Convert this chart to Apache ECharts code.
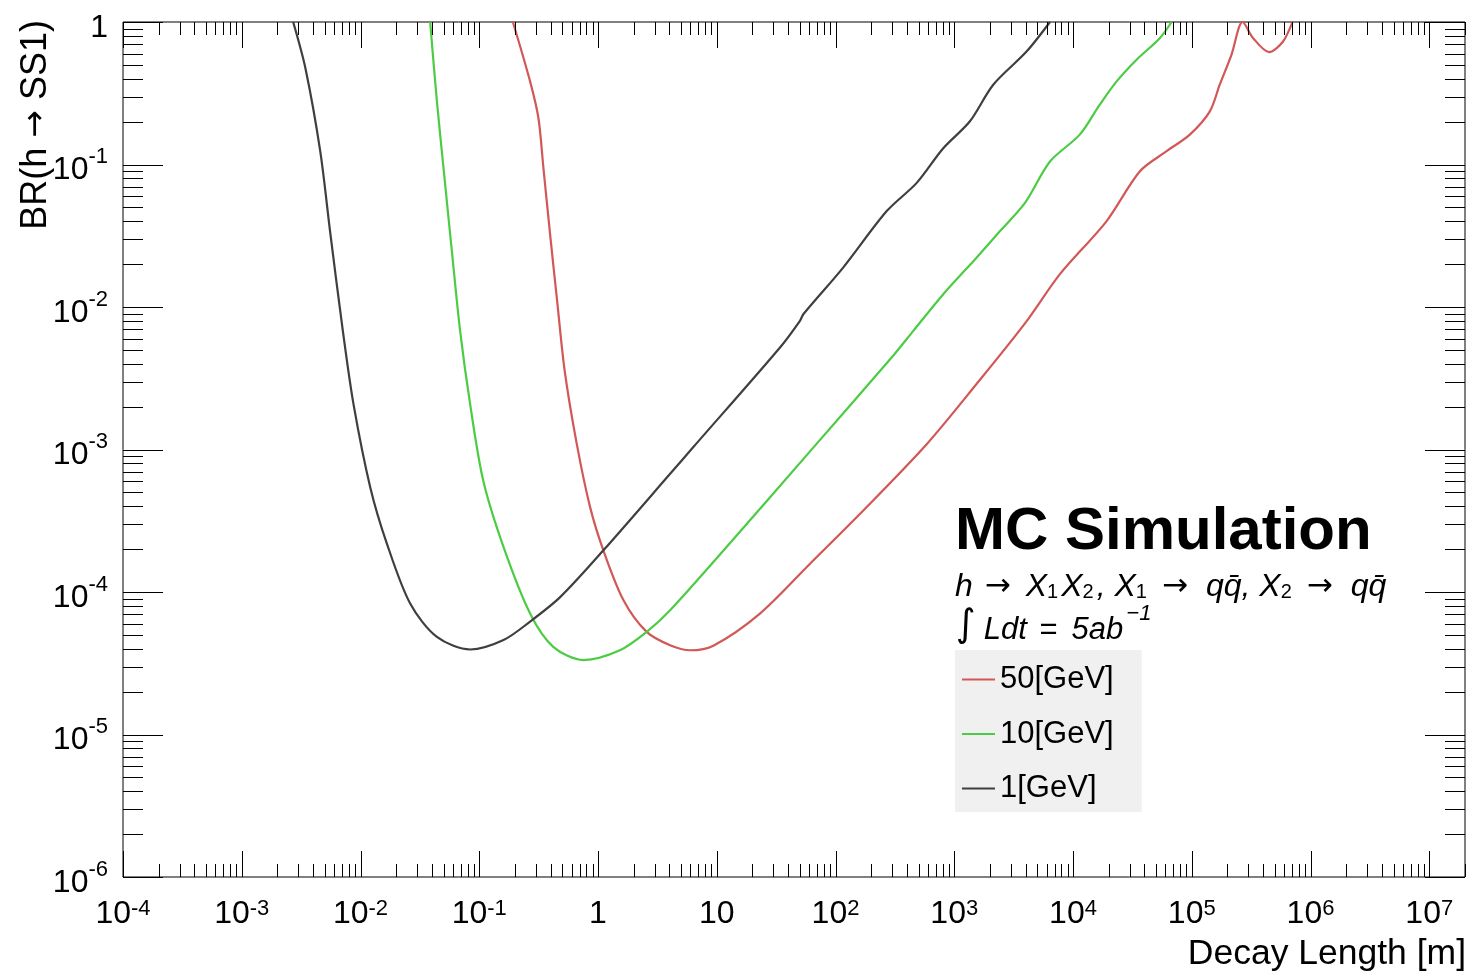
<!DOCTYPE html>
<html>
<head>
<meta charset="utf-8">
<title>BR(h -> SS1) vs decay length</title>
<script src="https://cdn.jsdelivr.net/npm/echarts@6/dist/echarts.min.js"></script>
<style>html,body{margin:0;padding:0;background:#fff;}</style>
</head>
<body>
<div id="main" style="width:1470px;height:976px;"></div>
<script>
var FONT = '"Liberation Sans", Arial, Helvetica, sans-serif';
var ARROW_FONT = '"DejaVu Sans", sans-serif';

// decay length [m] / branching ratio
var len50 = [0.192, 0.268, 0.315, 0.347, 0.395, 0.453, 0.524, 0.663, 0.858, 1.11, 1.64, 2.57, 4.05, 5.96, 9.36, 23.1, 61, 161, 586, 1540, 4000, 7760, 19200, 36600, 61400, 96300, 142000, 172000, 216000, 268000, 329000, 448000, 587000, 705000];
var br50  = [1.0, 0.383, 0.212, 0.0946, 0.0323, 0.011, 3.57e-3, 1.09e-3, 3.94e-4, 1.96e-4, 8.75e-5, 5.25e-5, 4.23e-5, 3.9e-5, 4.2e-5, 7.06e-5, 1.58e-4, 3.54e-4, 1.09e-3, 2.88e-3, 7.8e-3, 0.017, 0.0401, 0.0897, 0.124, 0.162, 0.236, 0.363, 0.589, 1.0, 0.77, 0.615, 0.73, 1.0];

var len10 = [0.0386, 0.044, 0.05, 0.0588, 0.069, 0.0838, 0.108, 0.16, 0.268, 0.42, 0.754, 1.53, 2.57, 4.05, 12.1, 61, 307, 452, 808, 1540, 2430, 3940, 6400, 11400, 16800, 23300, 34300, 53800, 67600];
var br10  = [1.0, 0.277, 0.0946, 0.0247, 6.8e-3, 2.08e-3, 6.05e-4, 2.07e-4, 7.06e-5, 4.12e-5, 3.33e-5, 3.9e-5, 5.25e-5, 7.45e-5, 2.07e-4, 9.7e-4, 4.57e-3, 6.8e-3, 0.0123, 0.0222, 0.0341, 0.0538, 0.105, 0.162, 0.263, 0.383, 0.544, 0.77, 1.0];

var len1 = [2.71e-3, 3.44e-3, 4.58e-3, 5.58e-3, 7.1e-3, 8.73e-3, 0.0121, 0.0167, 0.0262, 0.044, 0.084, 0.16, 0.268, 0.48, 1.11, 4.05, 6.35, 34.1, 50.2, 53.6, 116, 270, 483, 808, 1355, 2130, 4060, 6400];
var br1  = [1.0, 0.472, 0.124, 0.0325, 6.8e-3, 2.08e-3, 5.4e-4, 2.18e-4, 8.3e-5, 4.84e-5, 3.95e-5, 4.6e-5, 6.2e-5, 9.2e-5, 1.96e-4, 6.75e-4, 1.04e-3, 5.2e-3, 8.0e-3, 8.9e-3, 0.0189, 0.0471, 0.0743, 0.13, 0.201, 0.363, 0.62, 1.0];

var seriesNames = ['50[GeV]', '10[GeV]', '1[GeV]'];
var seriesColors = ['#d25757', '#4ccc44', '#3f3f3f'];

// axis ranges and decades that get ticks
var xMin = 1e-4, xMax = 2e7;
var yMin = 1e-6, yMax = 1;
var xDecades = [-4, -3, -2, -1, 0, 1, 2, 3, 4, 5, 6, 7];
var yDecades = [-6, -5, -4, -3, -2, -1];

function zip(a, b) {
    return a.map(function (v, i) { return [v, b[i]]; });
}

// 10^n labels in ROOT style
function powLabel(v) {
    var e = Math.round(Math.log10(v));
    if (Math.abs(Math.log10(v) - e) > 1e-6) return '';
    if (e === 0) return '{b|1}';
    if (e === 1) return '{b|10}';
    return '{b|10}{s|' + e + '}';
}

// tick marks on all four sides (major = decade, minor = 2..9)
var tickData = [];
xDecades.forEach(function (d) {
    for (var m = 1; m <= 9; m++) {
        var v = m * Math.pow(10, d);
        if (v <= xMax * 1.0001) tickData.push([v, 1e-3, 0, m === 1 ? 1 : 0]);
    }
});
yDecades.forEach(function (d) {
    for (var m = 1; m <= 9; m++) {
        tickData.push([1, m * Math.pow(10, d), 1, m === 1 ? 1 : 0]);
    }
});
tickData.push([1, 1, 1, 1]);

function renderTick(params, api) {
    var cs = params.coordSys;
    var isY = api.value(2) === 1;
    var major = api.value(3) === 1;
    var segs, len, p;
    if (!isY) {
        p = Math.round(api.coord([api.value(0), 1e-3])[0]) + 0.5;
        len = major ? 26 : 13;
        segs = [[p, cs.y + cs.height, p, cs.y + cs.height - len], [p, cs.y, p, cs.y + len]];
    } else {
        p = Math.round(api.coord([1, api.value(1)])[1]) + 0.5;
        len = major ? 40 : 20;
        segs = [[cs.x, p, cs.x + len, p], [cs.x + cs.width, p, cs.x + cs.width - len, p]];
    }
    return {
        type: 'group',
        children: segs.map(function (s) {
            return {
                type: 'line',
                shape: { x1: s[0], y1: s[1], x2: s[2], y2: s[3] },
                style: { stroke: '#000', lineWidth: 1 }
            };
        })
    };
}

function curve(i, lens, brs) {
    return {
        name: seriesNames[i], type: 'line', data: zip(lens, brs),
        showSymbol: false, smooth: 0.3, clip: true, z: 3,
        lineStyle: { width: 2.2, color: seriesColors[i] }, itemStyle: { color: seriesColors[i] }
    };
}

var chart = echarts.init(document.getElementById('main'));

var option = {
    animation: false,
    backgroundColor: '#fff',
    grid: {
        left: 123, right: 5, top: 20, bottom: 99,
        show: true, borderColor: '#000', borderWidth: 1, backgroundColor: 'transparent'
    },
    xAxis: {
        type: 'log', logBase: 10, min: xMin, max: xMax, interval: 1,
        axisLine: { show: false }, axisTick: { show: false }, splitLine: { show: false },
        axisLabel: {
            formatter: powLabel, margin: 21, color: '#000',
            showMinLabel: true, showMaxLabel: true,
            rich: {
                b: { fontSize: 32, lineHeight: 32, fontFamily: FONT, color: '#000' },
                s: { fontSize: 22, lineHeight: 13, verticalAlign: 'top', fontFamily: FONT, color: '#000' }
            }
        }
    },
    yAxis: {
        type: 'log', logBase: 10, min: yMin, max: yMax, interval: 1,
        axisLine: { show: false }, axisTick: { show: false }, splitLine: { show: false },
        axisLabel: {
            formatter: powLabel, margin: 15, color: '#000',
            rich: {
                b: { fontSize: 32, lineHeight: 32, padding: [12, 0, 0, 0], fontFamily: FONT, color: '#000' },
                s: { fontSize: 22, lineHeight: 37, verticalAlign: 'top', fontFamily: FONT, color: '#000' }
            }
        }
    },
    legend: {
        data: seriesNames,
        orient: 'vertical',
        left: 955, top: 650,
        padding: [14, 28, 8, 7],
        itemGap: 23.5,
        itemWidth: 33, itemHeight: 2,
        icon: 'rect',
        selectedMode: false,
        backgroundColor: '#f0f0f0',
        textStyle: { fontSize: 31, lineHeight: 31, fontFamily: FONT, color: '#000' }
    },
    graphic: [
        {
            type: 'text', x: 36, y: 20, rotation: Math.PI / 2,
            style: {
                text: '{t|BR(h }{a|\u2192}{t| SS1)}',
                align: 'right', verticalAlign: 'middle',
                rich: {
                    t: { fontSize: 36, fontFamily: FONT, fill: '#000' },
                    a: { fontSize: 33, fontFamily: ARROW_FONT, fill: '#000' }
                }
            }
        },
        {
            type: 'text', x: 1466, y: 954,
            style: { text: 'Decay Length [m]', fontSize: 35.5, fontFamily: FONT, fill: '#000', align: 'right', verticalAlign: 'middle' }
        },
        {
            type: 'text', x: 955, y: 532,
            style: { text: 'MC Simulation', fontSize: 60, fontWeight: 'bold', fontFamily: FONT, fill: '#000', align: 'left', verticalAlign: 'middle' }
        },
        {
            type: 'text', x: 955, y: 587,
            style: {
                text: '{i|h}{a|\u2192}{i|X}{d|1}{i|X}{d|2}{i|, X}{d|1}{b|\u2192}{i|qq\u0304, X}{d|2}{b|\u2192}{i|qq\u0304}',
                align: 'left', verticalAlign: 'middle',
                rich: {
                    i: { fontSize: 32, lineHeight: 30, fontStyle: 'italic', fontFamily: FONT, color: '#000' },
                    a: { fontSize: 31, lineHeight: 30, padding: [0, 15, 0, 12], fontFamily: ARROW_FONT, color: '#000' },
                    b: { fontSize: 31, lineHeight: 30, padding: [0, 18, 0, 12], fontFamily: ARROW_FONT, color: '#000' },
                    d: { fontSize: 20, lineHeight: 12, padding: [0, 3, 0, 0], verticalAlign: 'bottom', fontFamily: FONT, color: '#000' }
                }
            }
        },
        {
            type: 'text', x: 956, y: 624,
            style: {
                text: '{g|\u222B}{i|Ldt}{h| }{e|=}{i|5ab}{u|\u22121}',
                align: 'left', verticalAlign: 'middle',
                rich: {
                    g: { fontSize: 38, lineHeight: 30, padding: [0, 8, 0, 0], verticalAlign: 'bottom', fontStyle: 'italic', fontFamily: ARROW_FONT, color: '#000' },
                    i: { fontSize: 31, lineHeight: 30, verticalAlign: 'bottom', fontStyle: 'italic', fontFamily: FONT, color: '#000' },
                    h: { fontSize: 31, lineHeight: 43, verticalAlign: 'bottom', fontStyle: 'italic', fontFamily: FONT, color: '#000' },
                    e: { fontSize: 31, lineHeight: 30, padding: [0, 14, 0, 4], verticalAlign: 'bottom', fontFamily: FONT, color: '#000' },
                    u: { fontSize: 22, lineHeight: 21, padding: [0, 0, 0, 3], verticalAlign: 'top', fontStyle: 'italic', fontFamily: FONT, color: '#000' }
                }
            }
        }
    ],
    series: [
        curve(0, len50, br50),
        curve(1, len10, br10),
        curve(2, len1, br1),
        {
            type: 'custom', data: tickData, renderItem: renderTick,
            encode: { x: 0, y: 1 }, silent: true, z: 4, clip: false
        }
    ]
};

chart.setOption(option);
</script>
</body>
</html>
